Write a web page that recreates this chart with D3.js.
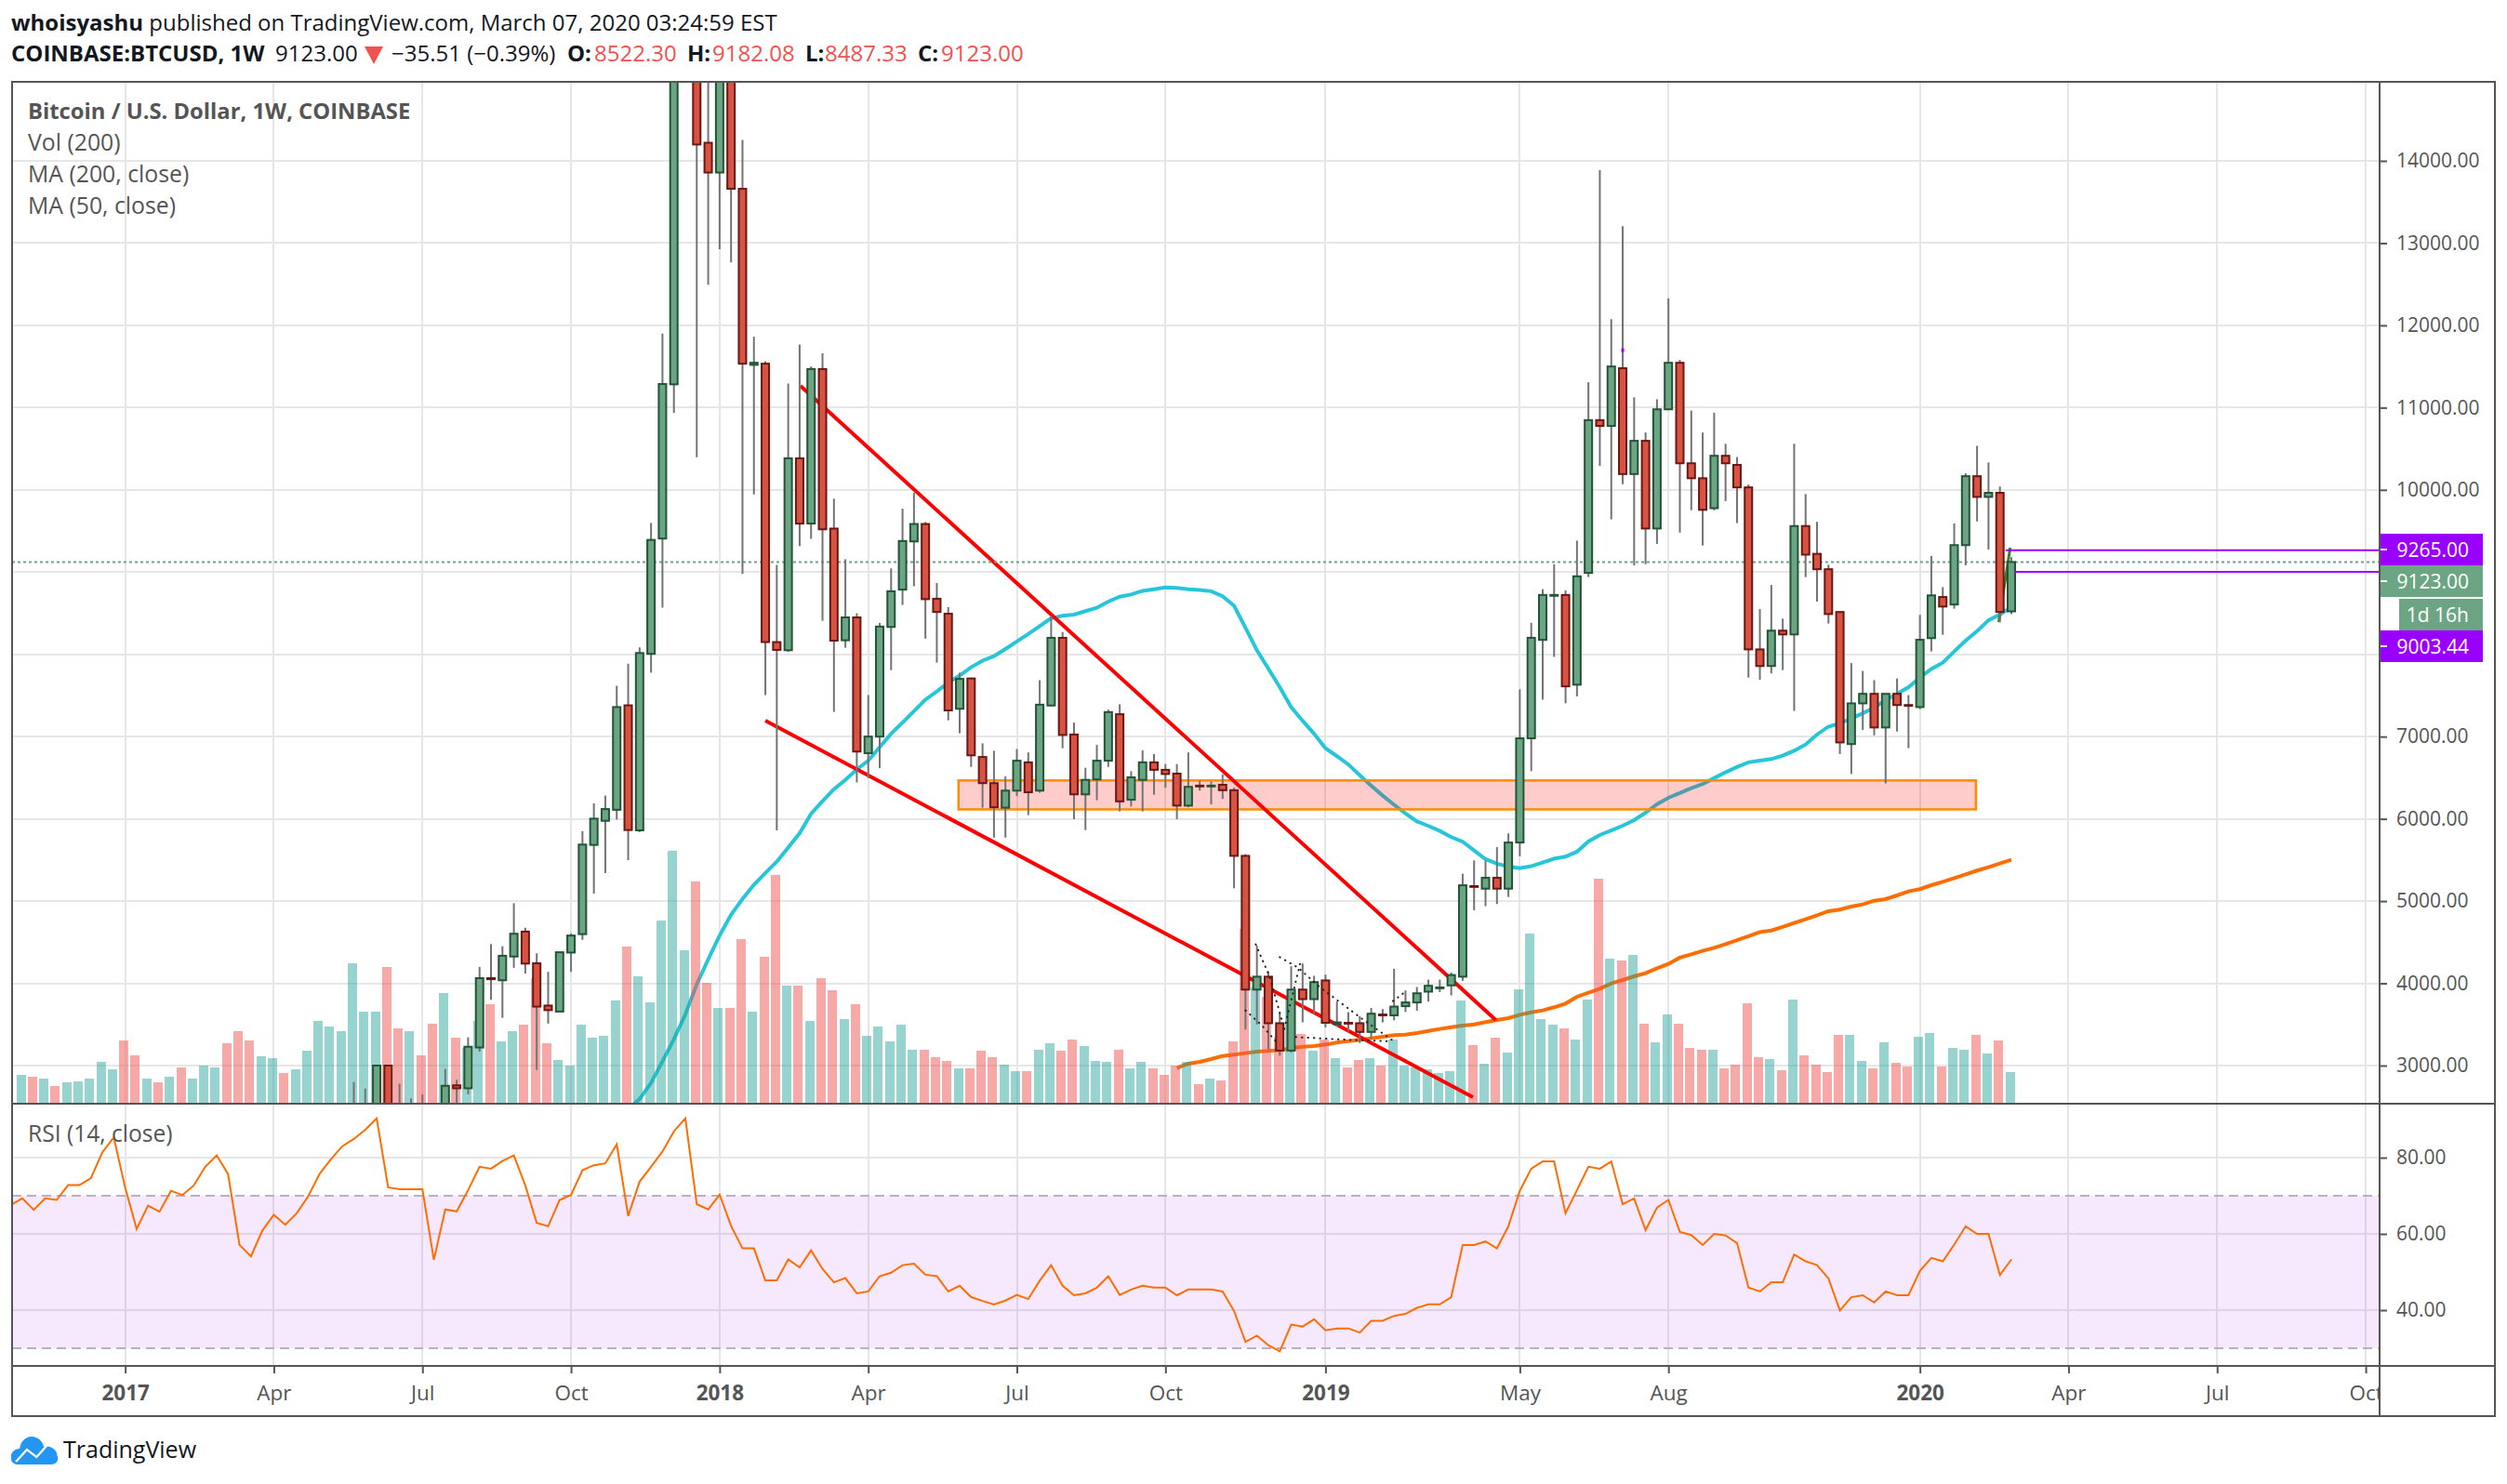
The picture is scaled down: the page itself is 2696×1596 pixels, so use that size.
<!DOCTYPE html>
<html>
<head>
<meta charset="utf-8">
<title>BTCUSD 1W</title>
<script src="https://d3js.org/d3.v7.min.js"></script>
<style>
  html, body { margin: 0; background: #fff; }
  svg { display: block; }
  text { font-family: "Open Sans", "Noto Sans", sans-serif; }
</style>
</head>
<body>
<div id="chart"></div>
<script>
// ---- values ----
// week numbers count bars, 0 is the first volume bar, 174 is the week of March 2 2020
var tickWeeks = [9, 22, 35, 48, 61, 74, 87, 100, 114, 131, 144, 166, 179, 192, 205];
var tickLabels = ["2017", "Apr", "Jul", "Oct", "2018", "Apr", "Jul", "Oct", "2019", "May", "Aug", "2020", "Apr", "Jul", "Oct"];
var priceTicks = [3000, 4000, 5000, 6000, 7000, 8000, 9000, 10000, 11000, 12000, 13000, 14000];
var hiddenPriceLabels = [8000, 9000]; // covered by the price tags in the reference
var rsiTicks = [40, 60, 80];

// candles below the pane before week 29 are not visible, so the lists start there
var candleStart = 29;
var candleOpen = [2250, 2300, 2100, 3000, 2480, 2460, 2500, 2450, 2400, 2760, 2724, 3220, 4063, 4037, 4326, 4629, 4244, 3730, 3657, 4374, 4598, 5683, 5976, 6110, 7380, 5860, 8006, 9408, 11283, 16500, 19000, 14220, 13858, 15500, 13660, 11520, 11534, 8149, 8050, 10384, 9590, 11469, 9529, 8171, 8449, 6798, 7000, 8333, 8787, 9373, 9585, 8676, 8494, 7338, 7707, 6752, 6434, 6136, 6343, 6687, 6343, 7378, 8201, 7025, 6298, 6479, 6707, 7272, 6232, 6474, 6687, 6596, 6550, 6161, 6404, 6394, 6414, 6348, 5550, 3924, 4081, 3515, 3182, 3924, 3808, 4035, 3505, 3520, 3515, 3409, 3621, 3611, 3722, 3768, 3899, 3940, 3975, 4081, 5182, 5151, 5283, 5151, 5712, 6979, 8176, 8712, 8722, 7631, 8990, 10848, 10777, 11479, 10192, 10596, 9530, 10979, 11545, 10323, 10141, 9777, 10414, 10303, 10030, 8060, 7858, 8288, 8242, 9560, 9222, 9035, 8515, 6909, 7404, 7520, 7111, 7520, 7384, 7359, 8197, 8697, 8606, 9328, 10166, 9914, 9964, 8522.3];
var candleHigh = [2800, 2720, 3000, 3000, 2780, 2600, 2650, 2500, 2960, 2827, 3345, 4200, 4477, 4451, 4974, 4676, 4365, 4140, 4378, 4607, 5851, 6188, 6283, 7618, 7886, 8085, 9598, 11900, 19000, 19900, 19900, 15500, 17000, 17200, 14255, 11862, 11564, 9087, 11292, 11767, 11500, 11659, 9892, 9156, 8499, 7505, 8383, 9045, 9772, 9964, 9610, 8868, 8575, 7777, 7717, 6919, 6828, 6515, 6848, 6808, 7686, 8464, 8272, 7171, 6621, 6899, 7328, 7393, 6580, 6833, 6788, 6666, 6666, 6808, 6464, 6454, 6540, 6378, 5570, 4459, 4146, 3636, 4207, 4242, 4091, 4106, 3778, 3651, 3600, 3702, 3687, 4177, 3914, 3955, 4045, 4045, 4131, 5333, 5495, 5495, 5656, 5823, 7575, 8383, 8792, 9095, 8777, 9383, 11308, 13888, 12075, 13206, 11126, 10697, 11101, 12328, 11580, 10964, 10697, 10939, 10560, 10399, 10065, 8550, 8843, 8434, 10560, 9949, 9611, 9091, 8515, 7894, 7798, 7687, 7520, 7707, 7505, 8480, 9197, 8818, 9591, 10202, 10535, 10333, 10040, 9182.08];
var candleLow = [2100, 2050, 2000, 2200, 2150, 2100, 2050, 2050, 2300, 2450, 2650, 3170, 3800, 3580, 4188, 4119, 2948, 3510, 3657, 4140, 4529, 5091, 5341, 5990, 5497, 5838, 7777, 8568, 10937, 15500, 10397, 12493, 12925, 12765, 8979, 9944, 7506, 5860, 8030, 9317, 9404, 8408, 7300, 8080, 6444, 6495, 6616, 7808, 8600, 8828, 8191, 7899, 7197, 7040, 6631, 6136, 5772, 5772, 6277, 6045, 6318, 7363, 6858, 5995, 5863, 6227, 6631, 6090, 6151, 6090, 6293, 6378, 5995, 6141, 6343, 6176, 6242, 5156, 3439, 3500, 3197, 3121, 3161, 3525, 3626, 3465, 3475, 3414, 3273, 3323, 3525, 3550, 3651, 3667, 3778, 3894, 3853, 4030, 4889, 4939, 4964, 5050, 5545, 6580, 7449, 7969, 7404, 7489, 8939, 10292, 9641, 10070, 9081, 9096, 9343, 10979, 9480, 9752, 9323, 9752, 9863, 9596, 7717, 7692, 7768, 7808, 7313, 8939, 8641, 8374, 6788, 6545, 7080, 7015, 6430, 7060, 6859, 7333, 8035, 8237, 8555, 9081, 9616, 9273, 8389, 8487.33];
var candleClose = [2300, 2340, 3000, 2300, 2450, 2500, 2450, 2400, 2754, 2724, 3229, 4063, 4050, 4335, 4603, 4240, 3717, 3674, 4378, 4581, 5687, 6002, 6119, 7359, 5864, 8016, 9391, 11287, 16500, 19000, 14199, 13858, 15500, 13660, 11534, 11545, 8149, 8054, 10384, 9590, 11469, 9520, 8167, 8449, 6818, 7000, 8338, 8767, 9378, 9585, 8671, 8515, 7318, 7702, 6772, 6434, 6141, 6343, 6707, 6323, 7388, 8201, 7020, 6298, 6474, 6707, 7298, 6212, 6505, 6687, 6596, 6545, 6161, 6389, 6394, 6404, 6348, 5550, 3924, 4081, 3515, 3182, 3924, 3808, 4015, 3520, 3525, 3510, 3409, 3631, 3611, 3717, 3768, 3879, 3970, 3950, 4101, 5192, 5172, 5283, 5151, 5712, 6979, 8201, 8722, 8722, 7611, 8949, 10848, 10777, 11500, 10192, 10596, 9530, 10979, 11545, 10323, 10141, 9757, 10414, 10323, 10030, 8060, 7858, 8288, 8242, 9560, 9212, 9035, 8490, 6929, 7404, 7520, 7111, 7520, 7384, 7374, 8177, 8717, 8581, 9328, 10166, 9914, 9964, 8515, 9123];

// volume in thousands, first value is week 0
var volume = [31, 29, 27, 19, 23, 24, 27, 45, 37, 68, 52, 27, 23, 29, 39, 27, 41, 39, 65, 78, 68, 51, 49, 33, 37, 57, 89, 83, 78, 151, 99, 99, 147, 81, 78, 52, 86, 119, 71, 60, 89, 107, 67, 78, 85, 135, 65, 47, 41, 85, 71, 73, 111, 169, 137, 109, 197, 272, 165, 239, 130, 103, 103, 177, 99, 158, 246, 127, 127, 89, 135, 122, 91, 107, 73, 83, 67, 85, 58, 58, 50, 46, 38, 38, 57, 50, 42, 35, 35, 58, 65, 57, 69, 62, 46, 45, 58, 38, 45, 38, 31, 41, 45, 21, 27, 25, 67, 188, 125, 115, 72, 112, 75, 57, 69, 49, 39, 47, 49, 41, 69, 41, 39, 37, 33, 35, 111, 63, 43, 71, 55, 123, 183, 91, 85, 81, 69, 112, 242, 156, 154, 160, 86, 66, 96, 86, 60, 58, 58, 38, 42, 108, 50, 48, 36, 112, 52, 42, 34, 74, 74, 46, 38, 66, 44, 40, 72, 76, 40, 60, 58, 74, 54, 68, 34];
// up or down for the weeks before the first candle, later weeks follow the candles
var earlyVolumeSide = ["g", "r", "g", "r", "g", "g", "g", "g", "g", "r", "r", "g", "r", "g", "r", "g", "g", "g", "r", "r", "r", "g", "g", "r", "g", "g", "g", "g", "g"];

// moving averages, each list starts at its own week
var ma50Start = 53;
var ma50 = [2469, 2594, 2788, 3052, 3320, 3622, 3989, 4292, 4581, 4833, 5026, 5199, 5341, 5480, 5652, 5825, 6062, 6214, 6361, 6474, 6601, 6707, 6873, 7035, 7171, 7308, 7449, 7550, 7656, 7742, 7843, 7924, 7979, 8065, 8156, 8247, 8343, 8439, 8469, 8484, 8525, 8565, 8641, 8701, 8727, 8772, 8792, 8813, 8808, 8792, 8782, 8767, 8707, 8590, 8323, 8050, 7828, 7601, 7358, 7192, 7035, 6858, 6762, 6661, 6530, 6404, 6283, 6171, 6065, 5969, 5914, 5853, 5778, 5722, 5616, 5510, 5454, 5419, 5399, 5424, 5469, 5515, 5540, 5601, 5725, 5804, 5860, 5917, 5985, 6075, 6177, 6256, 6313, 6374, 6424, 6495, 6566, 6631, 6687, 6707, 6727, 6768, 6828, 6904, 7025, 7121, 7162, 7222, 7283, 7353, 7444, 7520, 7601, 7717, 7823, 7899, 8035, 8167, 8283, 8414, 8485, 8576];
var ma200Start = 101;
var ma200 = [2970, 3023, 3045, 3079, 3117, 3132, 3151, 3170, 3177, 3188, 3211, 3230, 3237, 3256, 3279, 3298, 3313, 3332, 3351, 3369, 3377, 3396, 3422, 3445, 3467, 3486, 3501, 3528, 3554, 3577, 3618, 3648, 3671, 3709, 3754, 3837, 3886, 3935, 3999, 4040, 4085, 4123, 4183, 4236, 4312, 4353, 4395, 4432, 4477, 4526, 4572, 4624, 4643, 4685, 4734, 4779, 4828, 4877, 4896, 4934, 4960, 5005, 5024, 5069, 5118, 5145, 5193, 5235, 5280, 5325, 5371, 5412, 5457, 5503];

// rsi, first value is week -1 (cut by the left frame)
var rsiStart = -1;
var rsi = [67.6, 69.3, 66.3, 69.3, 68.9, 72.8, 72.8, 74.6, 81.4, 85.3, 72.1, 61.3, 67.4, 65.8, 71.3, 70.2, 72.7, 77.6, 80.6, 75.7, 57.1, 54.1, 60.9, 65.0, 62.4, 65.4, 69.8, 75.7, 79.6, 83.0, 84.9, 87.3, 90.3, 72.2, 71.7, 71.7, 71.7, 53.2, 66.4, 65.9, 71.5, 77.6, 77.1, 79.1, 80.6, 72.7, 62.9, 62.0, 68.9, 70.2, 76.7, 78.0, 78.5, 83.5, 64.7, 73.7, 77.6, 81.6, 86.9, 90.3, 67.8, 66.4, 70.3, 62.1, 56.2, 56.2, 47.8, 47.8, 53.3, 51.2, 55.7, 50.8, 47.3, 48.4, 44.4, 44.9, 48.9, 49.8, 51.8, 52.2, 49.3, 48.9, 44.9, 46.4, 43.4, 42.4, 41.5, 42.5, 44.0, 42.9, 47.7, 51.8, 46.4, 43.9, 44.4, 45.9, 48.9, 44.0, 45.4, 46.4, 45.9, 45.9, 43.9, 45.4, 45.4, 45.4, 44.9, 39.8, 31.7, 33.3, 30.8, 29.2, 36.2, 35.7, 37.6, 34.7, 35.2, 35.2, 34.1, 37.2, 37.2, 38.5, 39.0, 40.6, 41.5, 41.5, 43.4, 57.1, 57.1, 58.0, 56.2, 62.0, 71.3, 77.1, 79.0, 79.0, 65.4, 71.5, 77.6, 77.1, 79.0, 67.8, 69.3, 61.0, 66.9, 68.9, 60.5, 59.7, 57.1, 60.0, 59.6, 57.6, 45.9, 44.9, 47.3, 47.3, 54.6, 52.8, 51.8, 48.3, 39.9, 43.4, 43.9, 42.0, 44.9, 43.9, 43.9, 50.3, 53.7, 52.8, 57.2, 62.0, 60.0, 60.0, 49.2, 53.3];
var rsiBands = [30, 70];

// drawings on the chart, [week, price]
var wedgeUpper = [[68.07, 11264], [128.9, 3555]];
var wedgeLower = [[65, 7195], [126.9, 2616]];
var supportZone = { weeks: [81.9, 170.9], prices: [6115, 6467] };
var lastMove = [[172.9, 8393], [173.9, 9297]];
var rangeLines = [{ from: 173.5, price: 9265 }, { from: 174.3, price: 9003.44 }];
var lastPrice = 9123;
var dottedPaths = [
  [[107.9, 4474], [109.1, 4085], [110.4, 3445]],
  [[107, 3671], [108.4, 3494], [109.9, 3256]],
  [[110, 4319], [111.6, 4191], [113.5, 3954], [115.85, 3709], [117.3, 3558], [119.8, 3313]],
  [[110.4, 3445], [111.8, 4251]],
  [[111.4, 3347], [116, 3313], [119.8, 3294]],
  [[119.9, 3784], [120.8, 3878]]
];
var priceMarker = [140, 11697];

// ---- layout ----
var W = 2696, H = 1596;
var frame = { left: 13, right: 2683, top: 88, bottom: 1523, axisX: 2559, mainBottom: 1187, rsiBottom: 1469 };
var ink = "#555555", gridColor = "#e6e6e6";
var upFill = "#6ba583", upEdge = "#225437", downFill = "#d75442", downEdge = "#6b1713", wickColor = "#737375";
var red = "#ef5350", purple = "#9900ff";

var svg = d3.select("#chart").append("svg").attr("width", W).attr("height", H);
var defs = svg.append("defs");
defs.append("clipPath").attr("id", "mainClip").append("rect")
  .attr("x", frame.left).attr("y", frame.top)
  .attr("width", frame.axisX - frame.left).attr("height", frame.mainBottom - frame.top);
defs.append("clipPath").attr("id", "rsiClip").append("rect")
  .attr("x", frame.left).attr("y", frame.mainBottom)
  .attr("width", frame.axisX - frame.left).attr("height", frame.rsiBottom - frame.mainBottom);
defs.append("clipPath").attr("id", "timeClip").append("rect")
  .attr("x", frame.left).attr("y", frame.rsiBottom)
  .attr("width", frame.axisX - frame.left).attr("height", frame.bottom - frame.rsiBottom);

// scales
var x = d3.scaleLinear().domain([0, 174]).range([24, 2163]);
var y = d3.scaleLinear().domain([3000, 14000]).range([1146, 173]);
var yVol = d3.scaleLinear().domain([0, 272]).range([frame.mainBottom, frame.mainBottom - 272]);
var yRsi = d3.scaleLinear().domain([40, 80]).range([1409, 1245]);
var lineXY = d3.line().x(function (d) { return x(d[0]); }).y(function (d) { return y(d[1]); });

// grid
var grid = svg.append("g").attr("shape-rendering", "crispEdges").attr("stroke", gridColor).attr("stroke-width", 2);
grid.selectAll(".v").data(tickWeeks).enter().append("line")
  .attr("x1", x).attr("x2", x).attr("y1", frame.top).attr("y2", frame.rsiBottom);
grid.selectAll(".h").data(priceTicks).enter().append("line")
  .attr("x1", frame.left).attr("x2", frame.axisX).attr("y1", y).attr("y2", y);
grid.selectAll(".r").data(rsiTicks).enter().append("line")
  .attr("x1", frame.left).attr("x2", frame.axisX).attr("y1", yRsi).attr("y2", yRsi);

var main = svg.append("g").attr("clip-path", "url(#mainClip)");

// moving averages
function maPoints(values, start) {
  return values.map(function (v, i) { return [start + i, v]; });
}
main.append("path").datum(maPoints(ma50, ma50Start)).attr("d", lineXY)
  .attr("fill", "none").attr("stroke", "#26c6da").attr("stroke-width", 4);
main.append("path").datum(maPoints(ma200, ma200Start)).attr("d", lineXY)
  .attr("fill", "none").attr("stroke", "#ff6d00").attr("stroke-width", 4);

// volume
function isDown(week) {
  if (week < candleStart) return earlyVolumeSide[week] === "r";
  var k = week - candleStart;
  return candleClose[k] < candleOpen[k];
}
main.append("g").attr("shape-rendering", "crispEdges").selectAll("rect").data(volume).enter().append("rect")
  .attr("x", function (d, i) { return x(i) - 6.5; })
  .attr("width", 10)
  .attr("y", function (d) { return yVol(d); })
  .attr("height", function (d) { return yVol(0) - yVol(d); })
  .attr("fill", function (d, i) { return isDown(i) ? "rgba(239,83,80,.5)" : "rgba(38,166,154,.48)"; });

// support zone and trend lines
main.append("rect")
  .attr("x", x(supportZone.weeks[0])).attr("width", x(supportZone.weeks[1]) - x(supportZone.weeks[0]))
  .attr("y", y(supportZone.prices[1])).attr("height", y(supportZone.prices[0]) - y(supportZone.prices[1]))
  .attr("fill", "rgba(255,0,0,.2)").attr("stroke", "#ff8c00").attr("stroke-width", 2.5);
[wedgeUpper, wedgeLower].forEach(function (pts) {
  main.append("path").datum(pts).attr("d", lineXY)
    .attr("fill", "none").attr("stroke", "#ff0000").attr("stroke-width", 4);
});
main.append("path").datum(lastMove).attr("d", lineXY)
  .attr("fill", "none").attr("stroke", "#3a7d1f").attr("stroke-width", 3);

// last price line
main.append("line").attr("x1", frame.left).attr("x2", frame.axisX)
  .attr("y1", y(lastPrice)).attr("y2", y(lastPrice))
  .attr("stroke", upFill).attr("stroke-width", 2).attr("stroke-dasharray", "3 3");

// candles
var candles = main.append("g").selectAll("g").data(candleOpen).enter().append("g");
function candleX(d, i) { return x(candleStart + i); }
candles.append("line")
  .attr("x1", candleX).attr("x2", candleX)
  .attr("y1", function (d, i) { return y(candleHigh[i]); })
  .attr("y2", function (d, i) { return y(candleLow[i]); })
  .attr("stroke", wickColor).attr("stroke-width", 2);
candles.append("rect")
  .attr("x", function (d, i) { return candleX(d, i) - 4; })
  .attr("width", 8)
  .attr("y", function (d, i) { return y(Math.max(candleOpen[i], candleClose[i])); })
  .attr("height", function (d, i) { return Math.abs(y(candleOpen[i]) - y(candleClose[i])); })
  .attr("fill", function (d, i) { return candleClose[i] < candleOpen[i] ? downFill : upFill; })
  .attr("stroke", function (d, i) { return candleClose[i] < candleOpen[i] ? downEdge : upEdge; })
  .attr("stroke-width", 2);

// pattern dots and range lines
dottedPaths.forEach(function (pts) {
  main.append("path").datum(pts).attr("d", lineXY)
    .attr("fill", "none").attr("stroke", "#222").attr("stroke-width", 2)
    .attr("stroke-linecap", "round").attr("stroke-dasharray", "0.5 6");
});
main.selectAll(".range").data(rangeLines).enter().append("line")
  .attr("x1", function (d) { return x(d.from); }).attr("x2", frame.axisX)
  .attr("y1", function (d) { return y(d.price); }).attr("y2", function (d) { return y(d.price); })
  .attr("stroke", purple).attr("stroke-width", 2);
main.append("rect").attr("x", x(priceMarker[0]) - 1.5).attr("y", y(priceMarker[1]) - 2)
  .attr("width", 3).attr("height", 4).attr("fill", purple);

// rsi pane
var rsiPane = svg.append("g").attr("clip-path", "url(#rsiClip)");
rsiPane.append("rect").attr("x", frame.left).attr("width", frame.axisX - frame.left)
  .attr("y", yRsi(rsiBands[1])).attr("height", yRsi(rsiBands[0]) - yRsi(rsiBands[1]))
  .attr("fill", "rgba(153,0,240,.085)");
rsiPane.selectAll(".band").data(rsiBands).enter().append("line")
  .attr("x1", frame.left).attr("x2", frame.axisX).attr("y1", yRsi).attr("y2", yRsi)
  .attr("stroke", "#b8b0c0").attr("stroke-width", 2).attr("stroke-dasharray", "10 6");
rsiPane.append("path").datum(rsi)
  .attr("d", d3.line().x(function (d, i) { return x(rsiStart + i); }).y(function (d) { return yRsi(d); }))
  .attr("fill", "none").attr("stroke", "#ff6d00").attr("stroke-width", 2);

// price axes
function styleAxis(size) {
  return function (g) {
    g.select(".domain").remove();
    g.selectAll("line").attr("stroke", ink).attr("stroke-width", 2);
    g.selectAll("text").attr("fill", ink).style("font-size", size + "px").style("font-family", '"Open Sans", sans-serif');
  };
}
var priceFormat = d3.format(".2f");
svg.append("g").attr("transform", "translate(" + frame.axisX + ",0)")
  .call(d3.axisRight(y).tickValues(priceTicks).tickSize(8).tickPadding(10)
    .tickFormat(function (d) { return hiddenPriceLabels.indexOf(d) >= 0 ? "" : priceFormat(d); }))
  .call(styleAxis(21));
svg.append("g").attr("transform", "translate(" + frame.axisX + ",0)")
  .call(d3.axisRight(yRsi).tickValues(rsiTicks).tickSize(8).tickPadding(10).tickFormat(priceFormat))
  .call(styleAxis(21));

// time axis
var timeAxis = svg.append("g").attr("clip-path", "url(#timeClip)")
  .append("g").attr("transform", "translate(0," + frame.rsiBottom + ")")
  .call(d3.axisBottom(x).tickValues(tickWeeks).tickSize(8).tickPadding(13)
    .tickFormat(function (d, i) { return tickLabels[i]; }))
  .call(styleAxis(22.5));
timeAxis.selectAll("text").style("font-weight", function (d, i) { return /^\d/.test(tickLabels[i]) ? 700 : 400; });

// price tags
var tags = [
  { label: "9265.00", fill: purple, top: 574, left: frame.axisX },
  { label: "9123.00", fill: upFill, top: 608, left: frame.axisX },
  { label: "1d 16h", fill: upFill, top: 644, left: 2580 },
  { label: "9003.44", fill: purple, top: 678, left: frame.axisX }
];
var tagGroup = svg.selectAll(".tag").data(tags).enter().append("g");
tagGroup.append("rect").attr("x", function (d) { return d.left; }).attr("y", function (d) { return d.top; })
  .attr("width", function (d) { return 2670 - d.left; }).attr("height", 34)
  .attr("fill", function (d) { return d.fill; });
tagGroup.filter(function (d) { return d.left === frame.axisX; }).append("line")
  .attr("x1", frame.axisX).attr("x2", frame.axisX + 8)
  .attr("y1", function (d) { return d.top + 17; }).attr("y2", function (d) { return d.top + 17; })
  .attr("stroke", "#fff").attr("stroke-width", 2);
tagGroup.append("text").attr("x", 2655).attr("y", function (d) { return d.top + 25; })
  .attr("text-anchor", "end").attr("fill", "#fff").style("font-size", "21px")
  .text(function (d) { return d.label; });

// frame
var frameG = svg.append("g").attr("fill", "none").attr("stroke", ink).attr("stroke-width", 2.5).attr("shape-rendering", "crispEdges");
frameG.append("rect").attr("x", frame.left).attr("y", frame.top)
  .attr("width", frame.right - frame.left).attr("height", frame.bottom - frame.top);
frameG.append("line").attr("x1", frame.left).attr("x2", frame.right).attr("y1", frame.mainBottom).attr("y2", frame.mainBottom);
frameG.append("line").attr("x1", frame.left).attr("x2", frame.right).attr("y1", frame.rsiBottom).attr("y2", frame.rsiBottom);
frameG.append("line").attr("x1", frame.axisX).attr("x2", frame.axisX).attr("y1", frame.top).attr("y2", frame.bottom).attr("stroke-width", 2);

// legends
var legend = [
  { text: "Bitcoin / U.S. Dollar, 1W, COINBASE", y: 128, bold: true, size: 23.8 },
  { text: "Vol (200)", y: 162, size: 24.8 },
  { text: "MA (200, close)", y: 196, size: 24.8 },
  { text: "MA (50, close)", y: 230, size: 24.8 },
  { text: "RSI (14, close)", y: 1228, size: 24.6 }
];
svg.selectAll(".legend").data(legend).enter().append("text")
  .attr("x", 30).attr("y", function (d) { return d.y; })
  .attr("fill", ink).style("font-size", function (d) { return d.size + "px"; })
  .style("font-weight", function (d) { return d.bold ? 700 : 400; })
  .text(function (d) { return d.text; });

// header
var dark = "#131722";
var head1 = svg.append("text").attr("x", 12).attr("y", 33).attr("fill", dark).style("font-size", "24px");
head1.append("tspan").style("font-weight", 700).text("whoisyashu");
head1.append("tspan").text(" published on TradingView.com, March 07, 2020 03:24:59 EST");
var head2 = svg.append("text").attr("y", 66).attr("fill", dark).style("font-size", "24px");
var headParts = [
  ["COINBASE:BTCUSD, 1W", 700, dark, 12], ["9123.00", 400, dark, 296], ["−35.51 (−0.39%)", 400, dark, 421],
  ["O:", 700, dark, 610], ["8522.30", 400, red, 639], ["H:", 700, dark, 739], ["9182.08", 400, red, 766],
  ["L:", 700, dark, 866], ["8487.33", 400, red, 887], ["C:", 700, dark, 987], ["9123.00", 400, red, 1012]
];
head2.selectAll("tspan").data(headParts).enter().append("tspan")
  .attr("x", function (d) { return d[3]; })
  .style("font-weight", function (d) { return d[1]; }).attr("fill", function (d) { return d[2]; })
  .text(function (d) { return d[0]; });
svg.append("path").attr("d", "M392 50 L412 50 L402 69 Z").attr("fill", red);

// logo
var logo = svg.append("g").attr("transform", "translate(12,1545) scale(1.3,1)");
logo.append("path")
  .attr("d", "M0 24 C-1 17 3 13 7 13 C8 5 12 0 17 0 C22 0 26 5 27 11 C32 9 38 14 38 20 C40 26 37 30 33 30 L6 30 C3 30 0 28 0 24 Z")
  .attr("fill", "#2196f3");
logo.append("path").attr("d", "M4 27 L13 14 L21 22 L30 9")
  .attr("fill", "none").attr("stroke", "#fff").attr("stroke-width", 2);
svg.append("text").attr("x", 68).attr("y", 1568).attr("fill", dark).style("font-size", "25px").text("TradingView");
</script>
</body>
</html>
